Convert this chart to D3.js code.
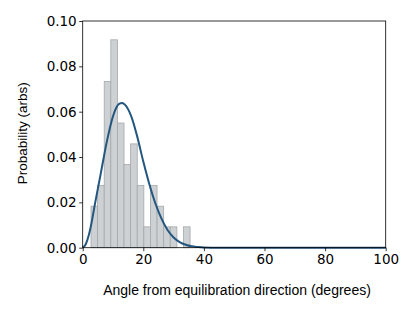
<!DOCTYPE html>
<html><head><meta charset="utf-8">
<script src="https://cdn.jsdelivr.net/npm/d3@7"></script>
<style>body{margin:0;background:#fff}svg{display:block}</style>
</head><body>
<svg id="c" width="415" height="311"></svg>
<script>
const binEdges = [2.74, 4.92, 7.10, 9.28, 11.46, 13.64, 15.82, 18.00, 20.18, 22.36, 24.54, 26.72, 28.90, 31.08, 33.26, 35.44];
const binDensity = [0.0183, 0.0275, 0.0733, 0.0917, 0.055, 0.0367, 0.0458, 0.0275, 0.0092, 0.0275, 0.0183, 0.0092, 0.0092, 0, 0.0092];
const curveX = [0, 1, 2, 3, 4, 6, 8, 10, 12, 13, 14, 16, 18, 20, 22, 24, 26, 28, 30, 32, 34, 36, 38, 40, 45, 50, 60, 70, 80, 90, 100];
const curveY = [0, 0.0015, 0.0055, 0.0115, 0.019, 0.033, 0.047, 0.058, 0.0634, 0.0638, 0.063, 0.058, 0.049, 0.038, 0.028, 0.0195, 0.0128, 0.0078, 0.0045, 0.0025, 0.0013, 0.0006, 0.0003, 0.0001, 0, 0, 0, 0, 0, 0, 0];
const xTicks = [0, 20, 40, 60, 80, 100];
const yTicks = [0.00, 0.02, 0.04, 0.06, 0.08, 0.10];

const svg = d3.select("#c");
const L = 82.7, R = 385.7, T = 21, B = 247.7;
const x = d3.scaleLinear().domain([0, 100]).range([L, R]);
const y = d3.scaleLinear().domain([0, 0.10]).range([B, T]);

const bars = binDensity.map((d, i) => ({x0: binEdges[i], x1: binEdges[i+1], v: d}));
svg.append("g").selectAll("rect").data(bars.filter(b => b.v > 0)).join("rect")
  .attr("x", d => x(d.x0)).attr("width", d => x(d.x1) - x(d.x0))
  .attr("y", d => y(d.v)).attr("height", d => y(0) - y(d.v))
  .attr("fill", "#cdd1d3").attr("stroke", "#a4a8aa").attr("stroke-width", 0.8);

const line = d3.line().x((d, i) => x(curveX[i])).y(d => y(d)).curve(d3.curveMonotoneX);
svg.append("path").datum(curveY).attr("d", line)
  .attr("fill", "none").attr("stroke", "#24567f").attr("stroke-width", 2);

const tickFont = "'DejaVu Sans', sans-serif";
const xa = svg.append("g").attr("transform", `translate(0,${B})`)
  .call(d3.axisBottom(x).tickValues(xTicks).tickSize(3.5).tickPadding(2).tickFormat(d3.format("d")));
const ya = svg.append("g").attr("transform", `translate(${L},0)`)
  .call(d3.axisLeft(y).tickValues(yTicks).tickSize(3.5).tickPadding(2.5).tickFormat(d3.format(".2f")));
[xa, ya].forEach(a => {
  a.select(".domain").remove();
  a.selectAll("line").attr("stroke", "#000").attr("stroke-width", 0.8);
  a.selectAll("text").attr("font-family", tickFont).attr("font-size", 13.5).attr("fill", "#000");
});
xa.selectAll("text").attr("dy", "0.78em");

svg.append("rect").attr("x", L).attr("y", T).attr("width", R - L).attr("height", B - T)
  .attr("fill", "none").attr("stroke", "#000").attr("stroke-width", 0.8);

svg.append("text").attr("x", 237).attr("y", 295).attr("text-anchor", "middle")
  .attr("font-family", "'Liberation Sans', Arial, sans-serif").attr("font-size", 14)
  .text("Angle from equilibration direction (degrees)");
svg.append("text").attr("transform", `translate(27,${(T + B) / 2 - 1}) rotate(-90)`).attr("text-anchor", "middle")
  .attr("font-family", "'Liberation Sans', Arial, sans-serif").attr("font-size", 13.5)
  .text("Probability (arbs)");
</script>
</body></html>
